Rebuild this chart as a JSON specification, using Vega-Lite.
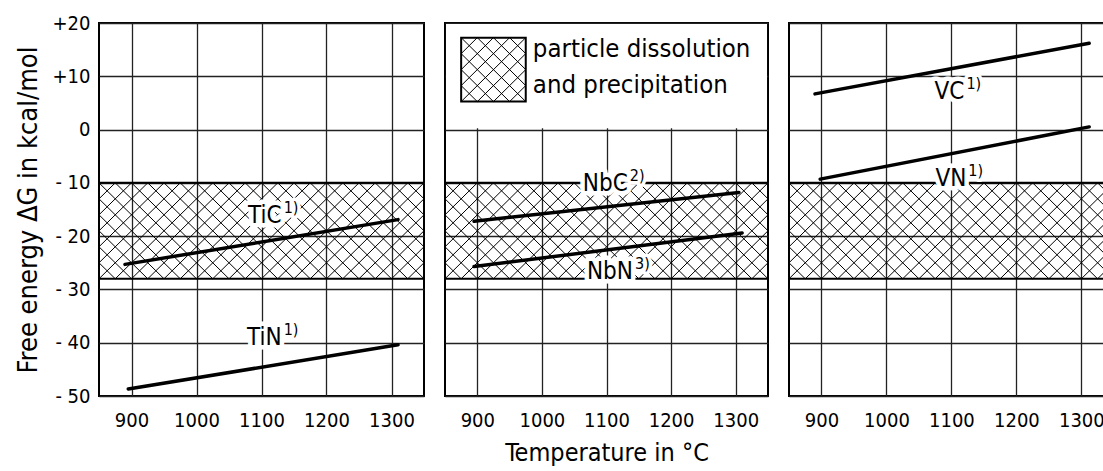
{
  "$schema": "https://vega.github.io/schema/vega-lite/v6.json",
  "background": "white",
  "padding": {"left": 13, "top": 12, "right": 0, "bottom": 0},
  "spacing": 19,
  "datasets": {
    "hatch": [
      {"x": 725, "x2": 875, "y": -28, "y2": -10}, {"x": 750, "x2": 900, "y": -28, "y2": -10},
      {"x": 775, "x2": 925, "y": -28, "y2": -10}, {"x": 800, "x2": 950, "y": -28, "y2": -10},
      {"x": 825, "x2": 975, "y": -28, "y2": -10}, {"x": 850, "x2": 1000, "y": -28, "y2": -10},
      {"x": 875, "x2": 1025, "y": -28, "y2": -10}, {"x": 900, "x2": 1050, "y": -28, "y2": -10},
      {"x": 925, "x2": 1075, "y": -28, "y2": -10}, {"x": 950, "x2": 1100, "y": -28, "y2": -10},
      {"x": 975, "x2": 1125, "y": -28, "y2": -10}, {"x": 1000, "x2": 1150, "y": -28, "y2": -10},
      {"x": 1025, "x2": 1175, "y": -28, "y2": -10}, {"x": 1050, "x2": 1200, "y": -28, "y2": -10},
      {"x": 1075, "x2": 1225, "y": -28, "y2": -10}, {"x": 1100, "x2": 1250, "y": -28, "y2": -10},
      {"x": 1125, "x2": 1275, "y": -28, "y2": -10}, {"x": 1150, "x2": 1300, "y": -28, "y2": -10},
      {"x": 1175, "x2": 1325, "y": -28, "y2": -10}, {"x": 1200, "x2": 1350, "y": -28, "y2": -10},
      {"x": 1225, "x2": 1375, "y": -28, "y2": -10}, {"x": 1250, "x2": 1400, "y": -28, "y2": -10},
      {"x": 1275, "x2": 1425, "y": -28, "y2": -10}, {"x": 1300, "x2": 1450, "y": -28, "y2": -10},
      {"x": 1325, "x2": 1475, "y": -28, "y2": -10},
      {"x": 725, "x2": 875, "y": -10, "y2": -28}, {"x": 750, "x2": 900, "y": -10, "y2": -28},
      {"x": 775, "x2": 925, "y": -10, "y2": -28}, {"x": 800, "x2": 950, "y": -10, "y2": -28},
      {"x": 825, "x2": 975, "y": -10, "y2": -28}, {"x": 850, "x2": 1000, "y": -10, "y2": -28},
      {"x": 875, "x2": 1025, "y": -10, "y2": -28}, {"x": 900, "x2": 1050, "y": -10, "y2": -28},
      {"x": 925, "x2": 1075, "y": -10, "y2": -28}, {"x": 950, "x2": 1100, "y": -10, "y2": -28},
      {"x": 975, "x2": 1125, "y": -10, "y2": -28}, {"x": 1000, "x2": 1150, "y": -10, "y2": -28},
      {"x": 1025, "x2": 1175, "y": -10, "y2": -28}, {"x": 1050, "x2": 1200, "y": -10, "y2": -28},
      {"x": 1075, "x2": 1225, "y": -10, "y2": -28}, {"x": 1100, "x2": 1250, "y": -10, "y2": -28},
      {"x": 1125, "x2": 1275, "y": -10, "y2": -28}, {"x": 1150, "x2": 1300, "y": -10, "y2": -28},
      {"x": 1175, "x2": 1325, "y": -10, "y2": -28}, {"x": 1200, "x2": 1350, "y": -10, "y2": -28},
      {"x": 1225, "x2": 1375, "y": -10, "y2": -28}, {"x": 1250, "x2": 1400, "y": -10, "y2": -28},
      {"x": 1275, "x2": 1425, "y": -10, "y2": -28}, {"x": 1300, "x2": 1450, "y": -10, "y2": -28},
      {"x": 1325, "x2": 1475, "y": -10, "y2": -28}
    ],
    "bandedges": [
      {"x": 850, "x2": 1350, "y": -10, "y2": -10},
      {"x": 850, "x2": 1350, "y": -28, "y2": -28}
    ],
    "legendbox": [
      {"x": 851.5, "x2": 1348.5, "y": 0.25, "y2": 19.8}
    ],
    "swatchhatch": [
      {"x": 875, "x2": 975, "y": 5.25, "y2": 17.25},
      {"x": 900, "x2": 975, "y": 5.25, "y2": 14.25},
      {"x": 925, "x2": 975, "y": 5.25, "y2": 11.25},
      {"x": 950, "x2": 975, "y": 5.25, "y2": 8.25},
      {"x": 875, "x2": 950, "y": 8.25, "y2": 17.25},
      {"x": 875, "x2": 925, "y": 11.25, "y2": 17.25},
      {"x": 875, "x2": 900, "y": 14.25, "y2": 17.25},
      {"x": 875, "x2": 900, "y": 8.25, "y2": 5.25},
      {"x": 875, "x2": 925, "y": 11.25, "y2": 5.25},
      {"x": 875, "x2": 950, "y": 14.25, "y2": 5.25},
      {"x": 875, "x2": 975, "y": 17.25, "y2": 5.25},
      {"x": 900, "x2": 975, "y": 17.25, "y2": 8.25},
      {"x": 925, "x2": 975, "y": 17.25, "y2": 11.25},
      {"x": 950, "x2": 975, "y": 17.25, "y2": 14.25}
    ],
    "swatch": [
      {"x": 875, "x2": 975, "y": 5.25, "y2": 17.25}
    ],
    "legendtext": [
      {"x": 986, "y": 15.2, "text": "particle dissolution"},
      {"x": 986, "y": 8.3, "text": "and precipitation"}
    ],
    "lines": [
      {"panel": "L", "series": "TiC", "x": 890, "y": -25.3},
      {"panel": "L", "series": "TiC", "x": 1310, "y": -16.9},
      {"panel": "L", "series": "TiN", "x": 895, "y": -48.7},
      {"panel": "L", "series": "TiN", "x": 1310, "y": -40.4},
      {"panel": "M", "series": "NbC", "x": 895, "y": -17.2},
      {"panel": "M", "series": "NbC", "x": 1305, "y": -11.8},
      {"panel": "M", "series": "NbN", "x": 895, "y": -25.7},
      {"panel": "M", "series": "NbN", "x": 1310, "y": -19.4},
      {"panel": "R", "series": "VC", "x": 890, "y": 6.7},
      {"panel": "R", "series": "VC", "x": 1312, "y": 16.2},
      {"panel": "R", "series": "VN", "x": 898, "y": -9.3},
      {"panel": "R", "series": "VN", "x": 1312, "y": 0.5}
    ],
    "labels": [
      {"panel": "L", "text": "TiC", "sup": "1)", "x": 1131, "y": -16.2},
      {"panel": "L", "text": "TiN", "sup": "1)", "x": 1131, "y": -39.2},
      {"panel": "M", "text": "NbC", "sup": "2)", "x": 1133, "y": -10.2},
      {"panel": "M", "text": "NbN", "sup": "3)", "x": 1141, "y": -26.7},
      {"panel": "R", "text": "VC", "sup": "1)", "x": 1120, "y": 7.1},
      {"panel": "R", "text": "VN", "sup": "1)", "x": 1123, "y": -9.3}
    ]
  },
  "hconcat": [
    {
      "width": 325,
      "height": 373,
      "encoding": {
        "x": {"field": "x", "type": "quantitative",
              "scale": {"domain": [850, 1350], "nice": false, "zero": false},
              "axis": {"values": [900, 1000, 1100, 1200, 1300], "format": "d", "labelPadding": 14, "title": null}},
        "y": {"field": "y", "type": "quantitative",
              "scale": {"domain": [-50, 20], "nice": false, "zero": false},
              "axis": {"values": [-50, -40, -30, -20, -10, 0, 10, 20], "labelPadding": 9,
                       "labelExpr": "datum.value < 0 ? '- ' + (-datum.value) : (datum.value > 0 ? '+' + datum.value : '0')",
                       "title": "Free energy ΔG in kcal/mol", "titleFontSize": 27, "titlePadding": 10}}
      },
      "layer": [
        {"data": {"name": "hatch"}, "mark": {"type": "rule", "clip": true, "strokeWidth": 1, "color": "black"},
         "encoding": {"x2": {"field": "x2"}, "y2": {"field": "y2"}}},
        {"data": {"name": "bandedges"}, "mark": {"type": "rule", "clip": true, "strokeWidth": 2, "color": "black"},
         "encoding": {"x2": {"field": "x2"}}},
        {"data": {"name": "lines"}, "transform": [{"filter": "datum.panel == 'L'"}],
         "mark": {"type": "line", "strokeWidth": 3.5, "color": "black", "strokeCap": "round"},
         "encoding": {"detail": {"field": "series"}}},
        {"data": {"name": "labels"}, "transform": [{"filter": "datum.panel == 'L'"}],
         "mark": {"type": "text", "fontSize": 24, "align": "right", "stroke": "white", "strokeWidth": 9, "strokeJoin": "round", "fill": "white"},
         "encoding": {"text": {"field": "text"}}},
        {"data": {"name": "labels"}, "transform": [{"filter": "datum.panel == 'L'"}],
         "mark": {"type": "text", "fontSize": 16, "align": "left", "dx": 2, "dy": -8, "stroke": "white", "strokeWidth": 7, "strokeJoin": "round", "fill": "white"},
         "encoding": {"text": {"field": "sup"}}},
        {"data": {"name": "labels"}, "transform": [{"filter": "datum.panel == 'L'"}],
         "mark": {"type": "text", "fontSize": 24, "align": "right", "color": "black"},
         "encoding": {"text": {"field": "text"}}},
        {"data": {"name": "labels"}, "transform": [{"filter": "datum.panel == 'L'"}],
         "mark": {"type": "text", "fontSize": 16, "align": "left", "dx": 2, "dy": -8, "color": "black"},
         "encoding": {"text": {"field": "sup"}}}
      ]
    },
    {
      "width": 323,
      "height": 373,
      "encoding": {
        "x": {"field": "x", "type": "quantitative",
              "scale": {"domain": [850, 1350], "nice": false, "zero": false},
              "axis": {"values": [900, 1000, 1100, 1200, 1300], "format": "d", "labelPadding": 14, "title": "Temperature in °C", "titlePadding": 10}},
        "y": {"field": "y", "type": "quantitative",
              "scale": {"domain": [-50, 20], "nice": false, "zero": false},
              "axis": {"values": [-50, -40, -30, -20, -10, 0, 10, 20], "labels": false, "title": null}}
      },
      "layer": [
        {"data": {"name": "hatch"}, "mark": {"type": "rule", "clip": true, "strokeWidth": 1, "color": "black"},
         "encoding": {"x2": {"field": "x2"}, "y2": {"field": "y2"}}},
        {"data": {"name": "bandedges"}, "mark": {"type": "rule", "clip": true, "strokeWidth": 2, "color": "black"},
         "encoding": {"x2": {"field": "x2"}}},
        {"data": {"name": "legendbox"}, "mark": {"type": "rect", "clip": true, "fill": "white", "stroke": null},
         "encoding": {"x2": {"field": "x2"}, "y2": {"field": "y2"}}},
        {"data": {"name": "swatchhatch"}, "mark": {"type": "rule", "clip": true, "strokeWidth": 1, "color": "black"},
         "encoding": {"x2": {"field": "x2"}, "y2": {"field": "y2"}}},
        {"data": {"name": "swatch"}, "mark": {"type": "rect", "fill": null, "fillOpacity": 0, "stroke": "black", "strokeWidth": 2},
         "encoding": {"x2": {"field": "x2"}, "y2": {"field": "y2"}}},
        {"data": {"name": "legendtext"},
         "mark": {"type": "text", "fontSize": 25.5, "align": "left", "baseline": "middle", "color": "black"},
         "encoding": {"text": {"field": "text"}}},
        {"data": {"name": "lines"}, "transform": [{"filter": "datum.panel == 'M'"}],
         "mark": {"type": "line", "strokeWidth": 3.5, "color": "black", "strokeCap": "round"},
         "encoding": {"detail": {"field": "series"}}},
        {"data": {"name": "labels"}, "transform": [{"filter": "datum.panel == 'M'"}],
         "mark": {"type": "text", "fontSize": 24, "align": "right", "stroke": "white", "strokeWidth": 9, "strokeJoin": "round", "fill": "white"},
         "encoding": {"text": {"field": "text"}}},
        {"data": {"name": "labels"}, "transform": [{"filter": "datum.panel == 'M'"}],
         "mark": {"type": "text", "fontSize": 16, "align": "left", "dx": 2, "dy": -8, "stroke": "white", "strokeWidth": 7, "strokeJoin": "round", "fill": "white"},
         "encoding": {"text": {"field": "sup"}}},
        {"data": {"name": "labels"}, "transform": [{"filter": "datum.panel == 'M'"}],
         "mark": {"type": "text", "fontSize": 24, "align": "right", "color": "black"},
         "encoding": {"text": {"field": "text"}}},
        {"data": {"name": "labels"}, "transform": [{"filter": "datum.panel == 'M'"}],
         "mark": {"type": "text", "fontSize": 16, "align": "left", "dx": 2, "dy": -8, "color": "black"},
         "encoding": {"text": {"field": "sup"}}}
      ]
    },
    {
      "width": 319,
      "height": 373,
      "encoding": {
        "x": {"field": "x", "type": "quantitative",
              "scale": {"domain": [850, 1341], "nice": false, "zero": false},
              "axis": {"values": [900, 1000, 1100, 1200, 1300], "format": "d", "labelPadding": 14, "title": null}},
        "y": {"field": "y", "type": "quantitative",
              "scale": {"domain": [-50, 20], "nice": false, "zero": false},
              "axis": {"values": [-50, -40, -30, -20, -10, 0, 10, 20], "labels": false, "title": null}}
      },
      "layer": [
        {"data": {"name": "hatch"}, "mark": {"type": "rule", "clip": true, "strokeWidth": 1, "color": "black"},
         "encoding": {"x2": {"field": "x2"}, "y2": {"field": "y2"}}},
        {"data": {"name": "bandedges"}, "mark": {"type": "rule", "clip": true, "strokeWidth": 2, "color": "black"},
         "encoding": {"x2": {"field": "x2"}}},
        {"data": {"name": "lines"}, "transform": [{"filter": "datum.panel == 'R'"}],
         "mark": {"type": "line", "strokeWidth": 3.5, "color": "black", "strokeCap": "round"},
         "encoding": {"detail": {"field": "series"}}},
        {"data": {"name": "labels"}, "transform": [{"filter": "datum.panel == 'R'"}],
         "mark": {"type": "text", "fontSize": 24, "align": "right", "stroke": "white", "strokeWidth": 9, "strokeJoin": "round", "fill": "white"},
         "encoding": {"text": {"field": "text"}}},
        {"data": {"name": "labels"}, "transform": [{"filter": "datum.panel == 'R'"}],
         "mark": {"type": "text", "fontSize": 16, "align": "left", "dx": 2, "dy": -8, "stroke": "white", "strokeWidth": 7, "strokeJoin": "round", "fill": "white"},
         "encoding": {"text": {"field": "sup"}}},
        {"data": {"name": "labels"}, "transform": [{"filter": "datum.panel == 'R'"}],
         "mark": {"type": "text", "fontSize": 24, "align": "right", "color": "black"},
         "encoding": {"text": {"field": "text"}}},
        {"data": {"name": "labels"}, "transform": [{"filter": "datum.panel == 'R'"}],
         "mark": {"type": "text", "fontSize": 16, "align": "left", "dx": 2, "dy": -8, "color": "black"},
         "encoding": {"text": {"field": "sup"}}}
      ]
    }
  ],
  "config": {
    "view": {"stroke": "black", "strokeWidth": 2},
    "axis": {
      "labelFont": "'DejaVu Sans Condensed', 'DejaVu Sans', sans-serif", "labelFontSize": 20, "labelColor": "black",
      "titleFont": "'DejaVu Sans Condensed', 'DejaVu Sans', sans-serif", "titleFontSize": 25, "titleFontWeight": "normal", "titleColor": "black",
      "ticks": false, "domain": false, "grid": true, "gridColor": "#222222", "gridWidth": 1.3, "gridOpacity": 1
    },
    "text": {"font": "'DejaVu Sans Condensed', 'DejaVu Sans', sans-serif"}
  }
}
